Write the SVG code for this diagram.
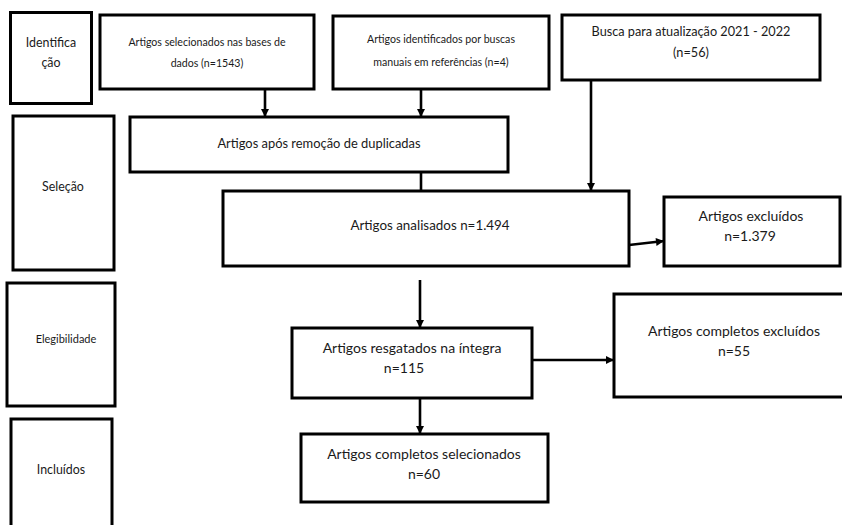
<svg xmlns="http://www.w3.org/2000/svg" width="842" height="525" viewBox="0 0 842 525">
<defs>
<marker id="ah" viewBox="0 0 10 10" refX="10" refY="5" markerWidth="9" markerHeight="8" markerUnits="userSpaceOnUse" orient="auto">
<path d="M0,0 L10,5 L0,10 z" fill="#000"/>
</marker>
<style>
rect{fill:#fff;stroke:#000;stroke-width:3}
text{font-family:Lato,"Liberation Sans",Arial,sans-serif;fill:#1a1a1a;text-anchor:middle}
.s{font-size:10.6px}
.m{font-size:12.7px}
.l{font-size:14px}
.lab{font-size:12.4px}
.lab2{font-size:11px}
.c line{stroke:#000;stroke-width:2.6}
.c .a{marker-end:url(#ah)}
</style>
</defs>
<rect width="842" height="525" style="fill:#fff;stroke:none"/>
<g id="stage-identificacao"><rect x="10.5" y="12.5" width="81" height="91"/><text class="lab" x="51" y="47">Identifica</text><text class="lab" x="51" y="67">ção</text></g>
<g id="stage-selecao"><rect x="13" y="116" width="101" height="154"/><text class="lab" x="63" y="191">Seleção</text></g>
<g id="stage-elegibilidade"><rect x="7" y="283" width="108" height="123"/><text class="lab2" x="66" y="343">Elegibilidade</text></g>
<g id="stage-incluidos"><rect x="11" y="419" width="101" height="112"/><text class="lab" x="61" y="474">Incluídos</text></g>
<g id="n1"><rect x="100" y="15" width="214" height="74"/><text class="s" x="207" y="46">Artigos selecionados nas bases de</text><text class="s" x="207" y="67">dados (n=1543)</text></g>
<g id="n2"><rect x="333" y="16" width="216" height="73"/><text class="s" x="441" y="43">Artigos identificados por buscas</text><text class="s" x="441" y="66">manuais em referências (n=4)</text></g>
<g id="n3"><rect x="562" y="15" width="258" height="65"/><text class="m" x="691" y="36">Busca para atualização 2021 - 2022</text><text class="m" x="691" y="57">(n=56)</text></g>
<g id="n4"><rect x="130" y="117" width="378" height="55"/><text style="font-size:12.9px" x="319" y="148">Artigos após remoção de duplicadas</text></g>
<g id="n5"><rect x="223" y="191" width="406" height="75"/><text style="font-size:13.4px" x="430" y="230">Artigos analisados n=1.494</text></g>
<g id="n6"><rect x="664" y="197" width="176" height="69"/><text class="l" x="751" y="221">Artigos excluídos</text><text class="l" x="750" y="241">n=1.379</text></g>
<g id="n7"><rect x="292" y="328" width="240" height="70"/><text class="l" x="412" y="353">Artigos resgatados na íntegra</text><text class="l" x="404" y="373">n=115</text></g>
<g id="n8"><rect x="614" y="294" width="232" height="103"/><text class="l" x="734" y="336">Artigos completos excluídos</text><text class="l" x="734" y="356">n=55</text></g>
<g id="n9"><rect x="301" y="434" width="247" height="68"/><text class="l" x="424" y="459">Artigos completos selecionados</text><text class="l" x="424" y="479">n=60</text></g>
<g id="connectors" class="c">
<line class="a" x1="265" y1="89" x2="265" y2="117"/>
<line class="a" x1="421" y1="89" x2="421" y2="117"/>
<line class="a" x1="591" y1="80" x2="591" y2="191"/>
<line x1="421" y1="172" x2="421" y2="191"/>
<line class="a" x1="629" y1="245" x2="664" y2="241"/>
<line class="a" x1="420" y1="280" x2="420" y2="328"/>
<line class="a" x1="532" y1="360" x2="614" y2="360"/>
<line class="a" x1="420" y1="398" x2="420" y2="434"/>
</g>
</svg>
